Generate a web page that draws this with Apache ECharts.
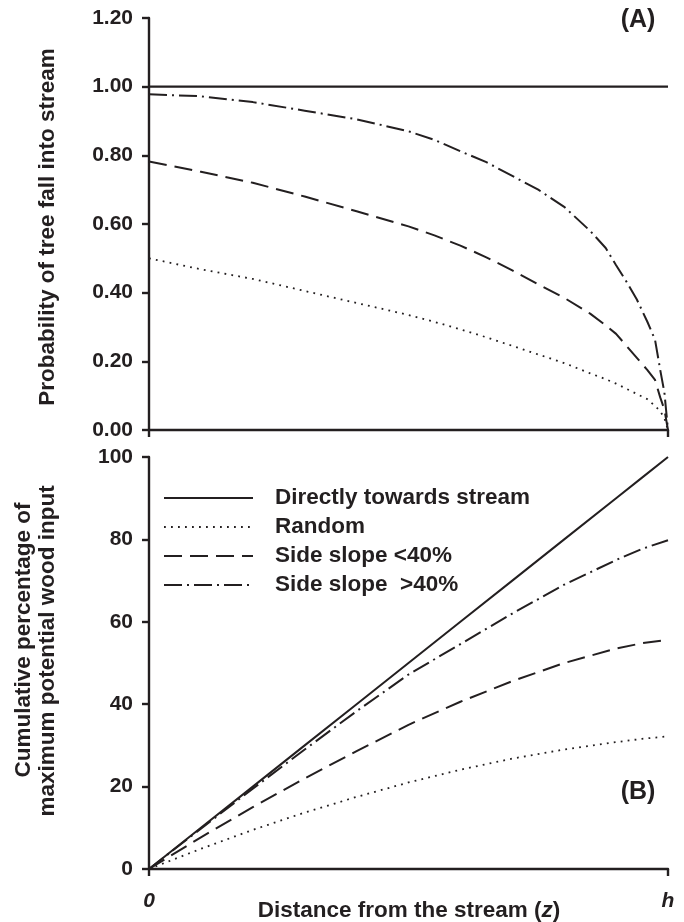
<!DOCTYPE html>
<html>
<head>
<meta charset="utf-8">
<script src="https://cdn.jsdelivr.net/npm/echarts@6/dist/echarts.min.js"></script>
<style>
html,body{margin:0;padding:0;background:#fff;}
#chart{width:684px;height:922px;}
</style>
</head>
<body>
<div id="chart"></div>
<script>
// ---- Data (x in units of h: 0 .. 1) ----
var seriesNames = ['Directly towards stream', 'Random', 'Side slope <40%', 'Side slope  >40%'];

// Panel A: probability of tree fall into stream
var zTop = [0, 0.1, 0.2, 0.3, 0.4, 0.5, 0.55, 0.6, 0.65, 0.7, 0.75, 0.8, 0.85, 0.88, 0.9, 0.92, 0.94, 0.96, 0.975, 0.985, 0.993, 1];
var probDirect = [1, 1, 1, 1, 1, 1, 1, 1, 1, 1, 1, 1, 1, 1, 1, 1, 1, 1, 1, 1, 1, 1];
var probRandom = [0.50, 0.468, 0.44, 0.405, 0.37, 0.335, 0.315, 0.293, 0.27, 0.245, 0.22, 0.195, 0.165, 0.148, 0.135, 0.12, 0.105, 0.09, 0.07, 0.055, 0.035, 0];
var probSlopeLow = [0.782, 0.752, 0.72, 0.68, 0.637, 0.593, 0.567, 0.537, 0.503, 0.465, 0.424, 0.385, 0.339, 0.305, 0.28, 0.245, 0.21, 0.175, 0.146, 0.095, 0.06, 0];
var probSlopeHigh = [0.978, 0.972, 0.955, 0.93, 0.905, 0.87, 0.845, 0.812, 0.78, 0.74, 0.70, 0.65, 0.58, 0.53, 0.48, 0.432, 0.38, 0.316, 0.263, 0.175, 0.11, 0];

// Panel B: cumulative percentage of maximum potential wood input
var zBottom = [0, 0.1, 0.2, 0.3, 0.4, 0.5, 0.6, 0.7, 0.8, 0.9, 0.95, 1];
var cumDirect = [0, 10, 20, 30, 40, 50, 60, 70, 80, 90, 95, 100];
var cumRandom = [0, 4.9, 9.5, 13.7, 17.5, 21.0, 24.1, 26.8, 29.0, 30.8, 31.6, 32.2];
var cumSlopeLow = [0, 7.7, 15.0, 22.0, 28.6, 35.0, 40.6, 45.6, 50.0, 53.5, 54.8, 55.6];
var cumSlopeHigh = [0, 9.8, 19.5, 29.0, 38.3, 47.2, 54.6, 62.0, 69.0, 75.0, 77.7, 79.8];

// Tick labels
var topTicks = [0, 0.2, 0.4, 0.6, 0.8, 1.0, 1.2];
var bottomTicks = [0, 20, 40, 60, 80, 100];
var xTickLabels = {0: '0', 1: 'h'};

// ---- Styles ----
var INK = '#231f20';
var FONT = '"Liberation Sans", Arial, Helvetica, sans-serif';
var lineStyles = [
  {type: 'solid', width: 2},
  {type: [1.8, 5.2], width: 1.8, cap: 'butt'},
  {type: [18, 8], width: 2},
  {type: [18, 5, 2, 5], width: 2}
];

function pairs(xs, ys) { return xs.map(function (x, i) { return [x, ys[i]]; }); }

var topData = [probDirect, probRandom, probSlopeLow, probSlopeHigh];
var botData = [cumDirect, cumRandom, cumSlopeLow, cumSlopeHigh];

var series = [];
seriesNames.forEach(function (n, i) {
  var ls = Object.assign({color: INK}, lineStyles[i]);
  if (i === 0) ls.width = 2.4;
  series.push({
    name: n, type: 'line', xAxisIndex: 0, yAxisIndex: 0,
    data: pairs(zTop, topData[i]), symbol: 'none', showSymbol: false, smooth: false,
    lineStyle: ls, itemStyle: {color: INK}, silent: true, animation: false
  });
});
seriesNames.forEach(function (n, i) {
  series.push({
    name: n, type: 'line', xAxisIndex: 1, yAxisIndex: 1,
    data: pairs(zBottom, botData[i]), symbol: 'none', showSymbol: false, smooth: false,
    lineStyle: Object.assign({color: INK}, lineStyles[i]), itemStyle: {color: INK},
    silent: true, animation: false
  });
});

var axisLineStyle = {show: true, lineStyle: {color: INK, width: 2.4}};
var tickStyle = {show: true, inside: false, length: 7, lineStyle: {color: INK, width: 2.4}};
var tickLabelStyle = {color: INK, fontFamily: FONT, fontWeight: 'bold', fontSize: 21};

var chart = echarts.init(document.getElementById('chart'), null, {renderer: 'canvas'});
chart.setOption({
  animation: false,
  backgroundColor: '#fff',
  grid: [
    {left: 149, top: 18, width: 519, height: 412, containLabel: false, outerBoundsMode: 'none'},
    {left: 149, top: 457, width: 519, height: 412, containLabel: false, outerBoundsMode: 'none'}
  ],
  xAxis: [
    {
      gridIndex: 0, type: 'value', min: 0, max: 1, interval: 1,
      axisLine: axisLineStyle, axisTick: tickStyle, axisLabel: {show: false}, splitLine: {show: false}
    },
    {
      gridIndex: 1, type: 'value', min: 0, max: 1, interval: 1,
      axisLine: axisLineStyle, axisTick: tickStyle,
      axisLabel: Object.assign({}, tickLabelStyle, {
        fontStyle: 'italic', margin: 22,
        formatter: function (v) { return xTickLabels[v] !== undefined ? xTickLabels[v] : ''; }
      }),
      splitLine: {show: false}
    }
  ],
  yAxis: [
    {
      gridIndex: 0, type: 'value', min: topTicks[0], max: topTicks[topTicks.length - 1], interval: 0.2,
      axisLine: axisLineStyle, axisTick: tickStyle,
      axisLabel: Object.assign({}, tickLabelStyle, {margin: 16, formatter: function (v) { return v.toFixed(2); }}),
      splitLine: {show: false}
    },
    {
      gridIndex: 1, type: 'value', min: bottomTicks[0], max: bottomTicks[bottomTicks.length - 1], interval: 20,
      axisLine: axisLineStyle, axisTick: tickStyle,
      axisLabel: Object.assign({}, tickLabelStyle, {margin: 16}),
      splitLine: {show: false}
    }
  ],
  legend: {
    data: seriesNames,
    orient: 'vertical', left: 158, top: 481,
    itemWidth: 89, itemHeight: 14, itemGap: 5,
    selectedMode: false,
    itemStyle: {opacity: 0},
    textStyle: {color: INK, fontFamily: FONT, fontWeight: 'bold', fontSize: 22.5, lineHeight: 24, padding: [0, 0, 0, 17]}
  },
  graphic: [
    {type: 'text', x: 48, y: 227, rotation: Math.PI / 2,
     style: {text: 'Probability of tree fall into stream', fill: INK, font: 'bold 22.5px ' + FONT, textAlign: 'center', textVerticalAlign: 'middle'}},
    {type: 'text', x: 24, y: 640, rotation: Math.PI / 2,
     style: {text: 'Cumulative percentage of', fill: INK, font: 'bold 22.5px ' + FONT, textAlign: 'center', textVerticalAlign: 'middle'}},
    {type: 'text', x: 48, y: 651, rotation: Math.PI / 2,
     style: {text: 'maximum potential wood input', fill: INK, font: 'bold 22.5px ' + FONT, textAlign: 'center', textVerticalAlign: 'middle'}},
    {type: 'text', x: 409, y: 911,
     style: {
       text: 'Distance from the stream ({i|z})', fill: INK,
       fontFamily: FONT, fontWeight: 'bold', fontSize: 22.5,
       rich: {i: {fill: INK, fontFamily: FONT, fontWeight: 'bold', fontStyle: 'italic', fontSize: 22.5}},
       align: 'center', verticalAlign: 'middle'
     }},
    {type: 'text', x: 638, y: 20,
     style: {text: '(A)', fill: INK, font: 'bold 25px ' + FONT, textAlign: 'center', textVerticalAlign: 'middle'}},
    {type: 'text', x: 638, y: 792,
     style: {text: '(B)', fill: INK, font: 'bold 25px ' + FONT, textAlign: 'center', textVerticalAlign: 'middle'}}
  ],
  series: series
});
</script>
</body>
</html>
